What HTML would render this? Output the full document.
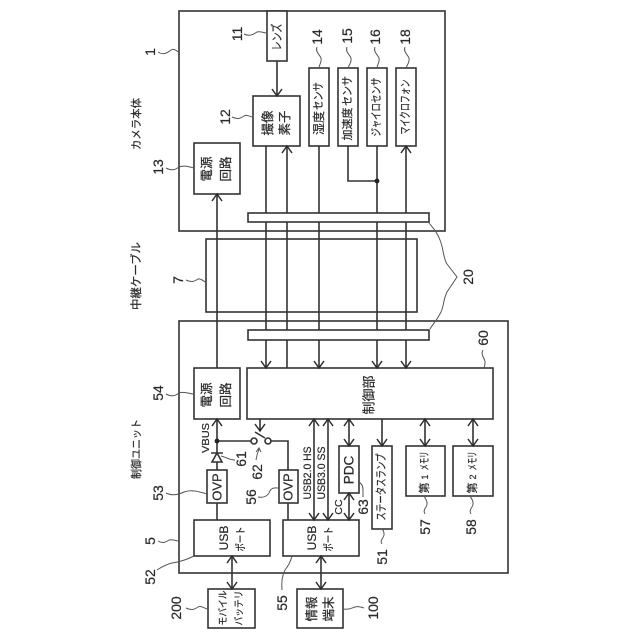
<!DOCTYPE html>
<html>
<head>
<meta charset="utf-8">
<style>
html,body{margin:0;padding:0;background:#fff;width:640px;height:640px;overflow:hidden}
svg{display:block}
.l{fill:none;stroke:#333;stroke-width:1.6}
.b{fill:#fff;stroke:#333;stroke-width:1.6}
.w{fill:none;stroke:#555;stroke-width:1}
.a{fill:none;stroke:#2c2c2c;stroke-width:1.5}
text{fill:#2a2a2a;stroke:#2a2a2a;stroke-width:.22;text-anchor:middle;dominant-baseline:central;font-family:"Liberation Sans","Noto Sans CJK JP",sans-serif}
.n text{font-size:14px}
</style>
</head>
<body>
<svg width="640" height="640" viewBox="0 0 640 640" xmlns="http://www.w3.org/2000/svg">
<!-- frames -->
<rect class="l" x="179" y="11" width="266" height="220"/>
<rect class="l" x="206" y="239" width="211" height="73"/>
<rect class="l" x="179" y="321" width="329" height="252"/>

<!-- vertical signal lines -->
<path class="l" d="M217 194V368M266 146V368M287 146V368M319 146V368M377 146V368M406 146V368"/>
<path class="l" d="M277 61V96M348 146V181H377"/>
<circle cx="377" cy="181" r="2.4" fill="#222"/>
<path class="l" d="M217 419V453M217 462V470M217 503V520M288 503V520M217 441H251M271 441H288V470"/>
<path class="l" d="M260 419V431M314 419V520M328 419V520M349 419V446M349 493V520M382 419V446M425 419V446M473 419V446M232 556V589M321 556V589"/>
<circle cx="217" cy="441" r="2.4" fill="#222"/>

<!-- bars -->
<rect class="b" x="248" y="213" width="181" height="9"/>
<rect class="b" x="248" y="330" width="181" height="10"/>

<!-- boxes -->
<rect class="b" x="267" y="11" width="20" height="50"/>
<rect class="b" x="253" y="96" width="47" height="50"/>
<rect class="b" x="194" y="143" width="46" height="51"/>
<rect class="b" x="309" y="68" width="20" height="78"/>
<rect class="b" x="338" y="68" width="20" height="78"/>
<rect class="b" x="367" y="68" width="20" height="78"/>
<rect class="b" x="396" y="68" width="20" height="78"/>
<rect class="b" x="194" y="368" width="46" height="51"/>
<rect class="b" x="247" y="368" width="246" height="51"/>
<rect class="b" x="207" y="470" width="20" height="33"/>
<rect class="b" x="279" y="470" width="19" height="33"/>
<rect class="b" x="194" y="520" width="76" height="36"/>
<rect class="b" x="283" y="520" width="76" height="36"/>
<rect class="b" x="339" y="446" width="20" height="47"/>
<rect class="b" x="372" y="446" width="20" height="83"/>
<rect class="b" x="406" y="446" width="39" height="50"/>
<rect class="b" x="453" y="446" width="40" height="50"/>
<rect class="b" x="208" y="589" width="47" height="39"/>
<rect class="b" x="297" y="589" width="46" height="39"/>

<!-- diode -->
<path class="l" d="M211 453H223M217 453L212 462H222Z"/>
<!-- switch -->
<circle class="l" cx="254" cy="441" r="3"/>
<circle class="l" cx="268" cy="441" r="3"/>
<path class="l" d="M255 432L265 438"/>

<!-- arrowheads: down -->
<path class="a" d="M272 89L277 96L282 89M261 361L266 368L271 361M314 361L319 368L324 361M372 361L377 368L382 361M401 361L406 368L411 361M255 424L260 431L265 424M377 439L382 446L387 439M344 439L349 446L354 439M420 439L425 446L430 439M468 439L473 446L478 439M309 513L314 520L319 513M323 513L328 520L333 513M344 513L349 520L354 513M227 582L232 589L237 582M316 582L321 589L326 582"/>
<!-- arrowheads: up -->
<path class="a" d="M282 153L287 146L292 153M401 153L406 146L411 153M212 201L217 194L222 201M212 426L217 419L222 426M309 426L314 419L319 426M323 426L328 419L333 426M344 426L349 419L354 426M420 426L425 419L430 426M468 426L473 419L478 426M344 500L349 493L354 500M227 563L232 556L237 563M316 563L321 556L326 563"/>
<path class="w" d="M256 460Q257 454 259 449M256 452L259 448L261 452"/>

<!-- leaders -->
<path class="w" d="M158 52C164 56 168 52 171 50C174 48 176 51 179 52"/>
<path class="w" d="M244 34C250 37 254 34 257 32C260 31 264 33 267 33"/>
<path class="w" d="M232 117C238 120 241 118 244 116C247 114 250 117 253 117"/>
<path class="w" d="M166 168C172 171 175 170 179 167C184 165 190 167 194 168"/>
<path class="w" d="M317 47C315 52 320 55 321 58C322 62 319 65 319 68"/>
<path class="w" d="M347 47C345 52 350 55 351 58C352 62 349 65 348 68"/>
<path class="w" d="M375 47C373 52 378 55 379 58C380 62 377 65 377 68"/>
<path class="w" d="M405 47C403 52 408 55 409 58C410 62 407 65 406 68"/>
<path class="w" d="M186 280C192 283 195 281 198 279C201 278 204 282 206 282"/>
<path class="w" d="M429 223C433 228 437 232 440 240C444 250 443 258 447 264L457 277L447 292C443 300 444 306 441 312C437 320 433 324 430 329"/>
<path class="w" d="M483 350C480 355 485 358 485 362C485 365 485 366 484 368"/>
<path class="w" d="M166 394C172 397 175 396 179 393C184 391 190 394 194 394"/>
<path class="w" d="M166 493C172 496 178 495 184 492C192 489 200 492 207 494"/>
<path class="w" d="M258 497C264 498 268 496 270 491C272 487 276 488 279 488"/>
<path class="w" d="M158 541C163 544 166 542 169 540C172 539 176 541 179 541"/>
<path class="w" d="M157 570C163 566 168 564 172 563C180 562 186 560 194 556"/>
<path class="w" d="M282 590C281 580 283 574 285 570C289 565 291 560 292 556"/>
<path class="w" d="M186 608C192 611 195 609 198 607C201 605 205 609 208 609"/>
<path class="w" d="M343 609C349 610 352 608 355 607C358 606 361 607 364 608"/>
<path class="w" d="M382 544C379 540 385 537 384 534C384 532 383 530 382 529"/>
<path class="w" d="M425 514C422 509 428 507 427 503C427 500 425 498 424 496"/>
<path class="w" d="M471 514C468 509 474 507 473 503C473 500 471 498 470 496"/>
<path class="w" d="M358 482C362 483 363 486 363 490C363 493 363 495 363 497"/>
<path class="w" d="M221 456C226 457 229 460 235 460"/>

<!-- numbers -->
<g class="n">
<text transform="translate(150,52) rotate(-90)">1</text>
<text transform="translate(237,34) rotate(-90)">11</text>
<text transform="translate(225,117) rotate(-90)">12</text>
<text transform="translate(158,167) rotate(-90)">13</text>
<text transform="translate(317,37) rotate(-90)">14</text>
<text transform="translate(347,36) rotate(-90)">15</text>
<text transform="translate(375,37) rotate(-90)">16</text>
<text transform="translate(405,37) rotate(-90)">18</text>
<text transform="translate(178,280) rotate(-90)">7</text>
<text transform="translate(468,277) rotate(-90)">20</text>
<text transform="translate(483,338) rotate(-90)">60</text>
<text transform="translate(158,393) rotate(-90)">54</text>
<text transform="translate(158,493) rotate(-90)">53</text>
<text transform="translate(251,497) rotate(-90)">56</text>
<text transform="translate(150,541) rotate(-90)">5</text>
<text transform="translate(150,577) rotate(-90)">52</text>
<text transform="translate(282,603) rotate(-90)">55</text>
<text transform="translate(176,608) rotate(-90)">200</text>
<text transform="translate(373,608) rotate(-90)">100</text>
<text transform="translate(382,557) rotate(-90)">51</text>
<text transform="translate(425,527) rotate(-90)">57</text>
<text transform="translate(471,527) rotate(-90)">58</text>
<text transform="translate(363,507) rotate(-90)">63</text>
<text transform="translate(241,459) rotate(-90)">61</text>
<text transform="translate(257,472) rotate(-90)">62</text>
</g>

<!-- captions -->
<text font-size="11" textLength="52" lengthAdjust="spacingAndGlyphs" transform="translate(137,124) rotate(-90)">カメラ本体</text>
<text font-size="11.5" textLength="68" lengthAdjust="spacingAndGlyphs" transform="translate(137,276) rotate(-90)">中継ケーブル</text>
<text font-size="11" textLength="60" lengthAdjust="spacingAndGlyphs" transform="translate(137,449) rotate(-90)">制御ユニット</text>

<text font-size="12" textLength="27" lengthAdjust="spacingAndGlyphs" transform="translate(277,37) rotate(-90)">レンズ</text>
<text font-size="12.5" transform="translate(268,123) rotate(-90)">撮像</text>
<text font-size="12.5" transform="translate(285,123) rotate(-90)">素子</text>
<text font-size="12.5" transform="translate(207,169) rotate(-90)">電源</text>
<text font-size="12.5" transform="translate(226,169) rotate(-90)">回路</text>

<text font-size="12" transform="translate(319,123) rotate(-90)">湿度</text>
<text font-size="11.5" textLength="28" lengthAdjust="spacingAndGlyphs" transform="translate(319,96) rotate(-90)">センサ</text>
<text font-size="11" transform="translate(348,124) rotate(-90)">加速度</text>
<text font-size="11.5" textLength="30" lengthAdjust="spacingAndGlyphs" transform="translate(348,91) rotate(-90)">センサ</text>
<text font-size="11.5" textLength="59" lengthAdjust="spacingAndGlyphs" transform="translate(377,107) rotate(-90)">ジャイロセンサ</text>
<text font-size="11.5" textLength="55" lengthAdjust="spacingAndGlyphs" transform="translate(406,107) rotate(-90)">マイクロフォン</text>

<text font-size="12.5" transform="translate(207,395) rotate(-90)">電源</text>
<text font-size="12.5" transform="translate(226,395) rotate(-90)">回路</text>
<text font-size="13" transform="translate(369,395) rotate(-90)">制御部</text>

<text font-size="10.5" textLength="25" lengthAdjust="spacingAndGlyphs" transform="translate(241,539) rotate(-90)">ポート</text>
<text font-size="10.5" textLength="25" lengthAdjust="spacingAndGlyphs" transform="translate(329,539) rotate(-90)">ポート</text>
<text font-size="11.5" textLength="67" lengthAdjust="spacingAndGlyphs" transform="translate(382,487) rotate(-90)">ステータスランプ</text>

<text font-size="11" transform="translate(425,488) rotate(-90)">第</text>
<text font-size="9" transform="translate(425,477) rotate(-90)">1</text>
<text font-size="11" textLength="19" lengthAdjust="spacingAndGlyphs" transform="translate(425,461) rotate(-90)">メモリ</text>
<text font-size="11" transform="translate(473,488) rotate(-90)">第</text>
<text font-size="9" transform="translate(473,477) rotate(-90)">2</text>
<text font-size="11" textLength="19" lengthAdjust="spacingAndGlyphs" transform="translate(473,461) rotate(-90)">メモリ</text>

<text font-size="10" textLength="35" lengthAdjust="spacingAndGlyphs" transform="translate(224,608) rotate(-90)">モバイル</text>
<text font-size="10" textLength="35" lengthAdjust="spacingAndGlyphs" transform="translate(240,608) rotate(-90)">バッテリ</text>
<text font-size="12.5" transform="translate(312,609) rotate(-90)">情報</text>
<text font-size="12.5" transform="translate(329,609) rotate(-90)">端末</text>

<text font-size="10.5" textLength="30" lengthAdjust="spacingAndGlyphs" transform="translate(206,438) rotate(-90)">VBUS</text>
<text font-size="11" textLength="53" lengthAdjust="spacingAndGlyphs" transform="translate(308,473) rotate(-90)">USB2.0 HS</text>
<text font-size="11" textLength="53" lengthAdjust="spacingAndGlyphs" transform="translate(322,473) rotate(-90)">USB3.0 SS</text>
<text font-size="10.5" transform="translate(339,507) rotate(-90)">CC</text>
<text font-size="13.5" transform="translate(349,470) rotate(-90)">PDC</text>
<text font-size="13" transform="translate(217,487) rotate(-90)">OVP</text>
<text font-size="13" transform="translate(288,487) rotate(-90)">OVP</text>
<text font-size="12" transform="translate(224,538) rotate(-90)">USB</text>
<text font-size="12" transform="translate(312,538) rotate(-90)">USB</text>
</svg>
</body>
</html>
